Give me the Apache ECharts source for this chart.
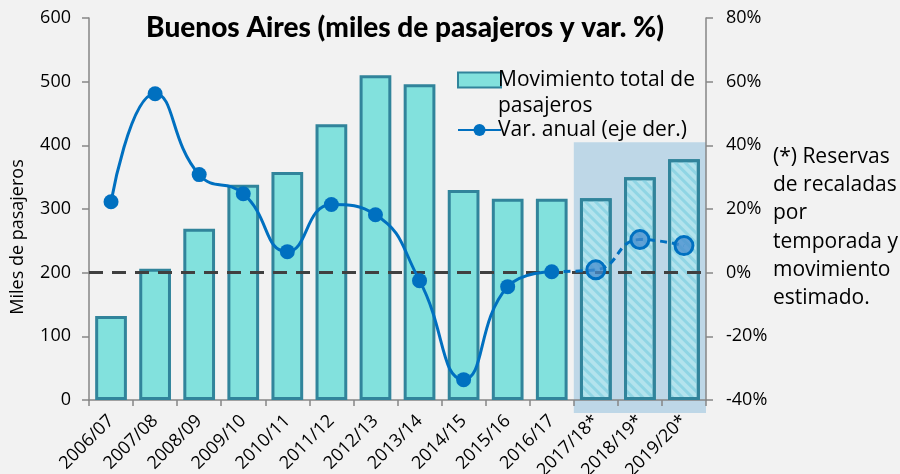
<!DOCTYPE html>
<html>
<head>
<meta charset="utf-8">
<script src="https://cdn.jsdelivr.net/npm/echarts@6/dist/echarts.min.js"></script>
<style>
  html, body { margin: 0; padding: 0; background: #f2f2f2; }
  #chart { width: 900px; height: 474px; }
</style>
</head>
<body>
<div id="chart"></div>
<script>
// Temporadas de cruceros
const temporadas = ['2006/07', '2007/08', '2008/09', '2009/10', '2010/11', '2011/12', '2012/13',
  '2013/14', '2014/15', '2015/16', '2016/17', '2017/18*', '2018/19*', '2019/20*'];
// Movimiento total de pasajeros (miles)
const pasajeros = [132, 206, 269, 338, 358, 433, 510, 496, 330, 316, 316, 317, 350, 378];
// Variación anual (%)
const variacion = [22.3, 56.2, 30.8, 24.8, 6.6, 21.4, 18.2, -2.5, -33.6, -4.4, 0.3, 0.9, 10.4, 8.5];
// Temporadas estimadas (con asterisco)
const primeraEstimada = 11;

const leftTicks = [0, 100, 200, 300, 400, 500, 600];
const rightTicks = [-40, -20, 0, 20, 40, 60, 80];
const nota = ['(*) Reservas', 'de recaladas', 'por', 'temporada y', 'movimiento', 'estimado.'];

const SERIE_BARRAS = 'Movimiento total de pasajeros';
const SERIE_LINEA = 'Var. anual (eje der.)';

const FONT = '"Open Sans", "Noto Sans", sans-serif';
const TITLE_FONT = 'Lato, "Open Sans", sans-serif';
const BAR_FILL = '#82e1dd';
const BAR_EDGE = '#31849b';
const LINE = '#0070c0';

const barData = pasajeros.map((v, i) => i < primeraEstimada ? v : {
  value: v,
  itemStyle: {
    color: '#b3e3ed',
    decal: {
      symbol: 'rect',
      symbolSize: 1,
      dashArrayX: [1, 0],
      dashArrayY: [3, 4],
      rotation: Math.PI / 4,
      color: '#8fd5e4'
    }
  }
});

const solidData = variacion.map((v, i) => i <= primeraEstimada - 1 ? v : null);
const dashedData = variacion.map((v, i) => {
  if (i < primeraEstimada - 1) return null;
  if (i === primeraEstimada - 1) return { value: v, symbolSize: 0 };
  return v;
});

const chart = echarts.init(document.getElementById('chart'), null, { renderer: 'canvas' });

const option = {
  backgroundColor: '#f2f2f2',
  animation: false,
  textStyle: { fontFamily: FONT },
  title: {
    text: 'Buenos Aires (miles de pasajeros y var. %)',
    left: 400,
    textAlign: 'center',
    top: 9,
    textStyle: { fontFamily: TITLE_FONT, fontWeight: 900, fontSize: 28, color: '#000' }
  },
  legend: {
    data: [
      { name: SERIE_BARRAS, icon: 'rect' },
      { name: SERIE_LINEA }
    ],
    // the bar entry wraps onto a second line below the swatch row
    formatter: (name) => name === SERIE_BARRAS ? ' \nMovimiento total de\npasajeros' : name,
    orient: 'vertical',
    left: 452,
    top: 36,
    itemGap: -2,
    itemWidth: 43,
    itemHeight: 15,
    textStyle: { fontFamily: FONT, fontSize: 21, color: '#000', lineHeight: 26, padding: [0, 0, 0, -8] }
  },
  grid: { left: 89, right: 194, top: 18, bottom: 74, containLabel: false, outerBoundsMode: 'none' },
  xAxis: {
    type: 'category',
    data: temporadas,
    axisLine: { lineStyle: { color: '#868686', width: 1.5 } },
    axisTick: { show: true, length: 6, lineStyle: { color: '#868686', width: 1.5 } },
    axisLabel: { rotate: 45, fontFamily: FONT, fontSize: 18, color: '#000', margin: 18, interval: 0 }
  },
  yAxis: [
    {
      type: 'value',
      min: leftTicks[0],
      max: leftTicks[leftTicks.length - 1],
      interval: 100,
      splitLine: { show: false },
      axisLine: { show: true, lineStyle: { color: '#868686', width: 1.5 } },
      axisTick: { show: true, length: 7, lineStyle: { color: '#868686', width: 1.5 } },
      axisLabel: { fontFamily: FONT, fontSize: 18, color: '#000', margin: 18 }
    },
    {
      type: 'value',
      min: rightTicks[0],
      max: rightTicks[rightTicks.length - 1],
      interval: 20,
      splitLine: { show: false },
      axisLine: { show: true, lineStyle: { color: '#868686', width: 1.5 } },
      axisTick: { show: true, length: 7, lineStyle: { color: '#868686', width: 1.5 } },
      axisLabel: { fontFamily: FONT, fontSize: 18, color: '#000', margin: 20, formatter: '{value}%' }
    }
  ],
  series: [
    {
      name: SERIE_BARRAS,
      type: 'bar',
      yAxisIndex: 0,
      barWidth: '72%',
      data: barData,
      z: 2,
      itemStyle: { color: BAR_FILL, borderColor: BAR_EDGE, borderWidth: 3 }
    },
    {
      name: SERIE_LINEA,
      type: 'line',
      yAxisIndex: 1,
      data: solidData,
      smooth: 0.5,
      symbol: 'circle',
      symbolSize: 15,
      z: 5,
      lineStyle: { color: LINE, width: 3 },
      itemStyle: { color: LINE },
      markLine: {
        silent: true,
        symbol: ['none', 'none'],
        label: { show: false },
        lineStyle: { color: '#404040', type: [14, 9], width: 3 },
        data: [{ yAxis: 0 }],
        z: 3
      }
    },
    {
      name: 'Var. anual estimada',
      type: 'line',
      yAxisIndex: 1,
      data: dashedData,
      smooth: 0.5,
      symbol: 'circle',
      symbolSize: 18,
      z: 5,
      lineStyle: { color: LINE, width: 3, type: [7, 5] },
      itemStyle: { color: 'rgba(70,140,205,0.75)', borderColor: LINE, borderWidth: 3 }
    }
  ]
};

chart.setOption(option);

// Sombreado de las temporadas estimadas, título del eje y nota al margen
function addDecorations() {
  const c0 = chart.convertToPixel({ xAxisIndex: 0 }, primeraEstimada);
  const c1 = chart.convertToPixel({ xAxisIndex: 0 }, primeraEstimada + 1);
  const band = c1 - c0;
  const x0 = c0 - band / 2;
  const x1 = chart.convertToPixel({ xAxisIndex: 0 }, temporadas.length - 1) + band / 2;
  const yTop = chart.convertToPixel({ yAxisIndex: 0 }, 405);
  const yBase = chart.convertToPixel({ yAxisIndex: 0 }, 0);

  const texts = nota.map((t, i) => ({
    type: 'text',
    x: 773,
    y: 157 + i * 28.2,
    style: { text: t, font: '21px ' + FONT, fill: '#000', verticalAlign: 'middle' },
    z: 10
  }));

  chart.setOption({
    graphic: [
      {
        type: 'rect',
        shape: { x: x0, y: yTop, width: x1 - x0, height: yBase - yTop + 13 },
        style: { fill: '#bed7e7' },
        z: -1,
        silent: true
      },
      {
        type: 'text',
        x: 18,
        y: 237,
        rotation: Math.PI / 2,
        style: { text: 'Miles de pasajeros', font: '18px ' + FONT, fill: '#000', align: 'center', verticalAlign: 'middle' },
        z: 10
      }
    ].concat(texts)
  });
}
addDecorations();
</script>
</body>
</html>
